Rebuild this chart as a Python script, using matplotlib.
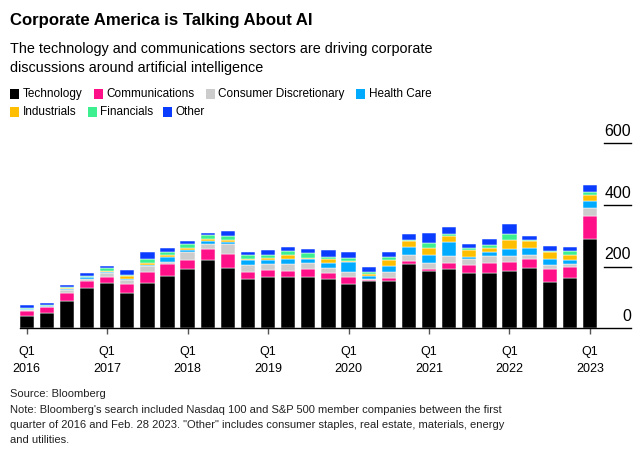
import matplotlib
matplotlib.use('Agg')
import matplotlib.pyplot as plt
from matplotlib.patches import Rectangle
import matplotlib.transforms as mtransforms
import numpy as np

plt.rcParams['font.family'] = ['Liberation Sans', 'DejaVu Sans']

# 季度 Q1 2016 - Q1 2023
quarters = ['Q1\n2016', '', '', '', 'Q1\n2017', '', '', '', 'Q1\n2018', '', '', '',
            'Q1\n2019', '', '', '', 'Q1\n2020', '', '', '', 'Q1\n2021', '', '', '',
            'Q1\n2022', '', '', '', 'Q1\n2023']

sectors = ['Technology', 'Communications', 'Consumer Discretionary', 'Health Care',
           'Industrials', 'Financials', 'Other']
colors = ['#000000', '#ff1089', '#cccccc', '#00aaff', '#ffbf00', '#3df08f', '#0a3cff']

tech = [41, 51, 90, 129, 146, 113, 148, 171, 192, 221, 194, 159, 165, 165, 167,
        161, 144, 152, 152, 208, 187, 191, 178, 180, 185, 194, 149, 162, 288]
comm = [15, 17, 24, 25, 19, 32, 36, 36, 29, 35, 46, 25, 24, 21, 25,
        17, 21, 5, 12, 10, 6, 19, 28, 30, 29, 29, 42, 36, 77]
cons = [2, 2, 11, 7, 15, 11, 17, 9, 27, 17, 33, 22, 18, 22, 18,
        16, 19, 3, 20, 18, 19, 25, 17, 24, 19, 13, 15, 9, 24]
health = [3, 1, 3, 5, 4, 4, 5, 16, 5, 11, 6, 14, 14, 16, 16,
          19, 30, 8, 19, 26, 24, 46, 9, 13, 25, 23, 17, 15, 23]
ind = [3, 1, 2, 1, 2, 9, 4, 6, 8, 4, 6, 4, 8, 14, 3,
       10, 3, 9, 18, 22, 23, 18, 22, 13, 28, 25, 23, 15, 19]
fin = [1, 3, 3, 4, 8, 4, 14, 9, 11, 14, 13, 14, 9, 13, 16,
       9, 12, 5, 10, 2, 16, 5, 6, 9, 18, 2, 6, 13, 11]
other = [9, 6, 7, 9, 8, 17, 23, 14, 10, 8, 16, 10, 16, 13, 13,
         21, 19, 16, 16, 18, 35, 23, 14, 19, 33, 13, 16, 13, 21]

series = [tech, comm, cons, health, ind, fin, other]
yticks = [0, 200, 400, 600]

W, H = 640, 455


def px(x, y):
    # 像素坐标 -> figure 坐标
    return x / W, 1 - y / H


fig = plt.figure(figsize=(6.4, 4.55), dpi=100)

# 坐标轴位置 (像素)
ax_left, ax_right, ax_base = 20, 631, 328.3
ymax = 620
ax_h = ymax / 3.24
ax = fig.add_axes([ax_left / W, 1 - ax_base / H, (ax_right - ax_left) / W, ax_h / H])

x = np.arange(len(tech))
bottom = np.zeros(len(tech))
for vals, c, name in zip(series, colors, sectors):
    ax.bar(x, vals, bottom=bottom, width=0.71, color=c, edgecolor='white',
           linewidth=0.35, label=name)
    bottom += np.array(vals)

ax.set_xlim(-0.333, 30.04)
ax.set_ylim(0, ymax)
for s in ['top', 'left', 'right']:
    ax.spines[s].set_visible(False)
ax.spines['bottom'].set_linewidth(1.0)
ax.set_yticks([])
ticks = [i for i, q in enumerate(quarters) if q]
ax.set_xticks(ticks)
ax.set_xticklabels([quarters[i] for i in ticks], fontsize=9.0, linespacing=1.6)
ax.tick_params(axis='x', length=4.5, width=1.0, color='#555555', pad=8)

# 右侧y轴刻度：短线 + 上方标签
trans = mtransforms.blended_transform_factory(ax.transAxes, ax.transData)
for v in yticks:
    if v > 0:
        ax.plot([0.956, 1.0], [v, v], transform=trans, color='black', lw=1.0,
                clip_on=False)
    ax.annotate(str(v), xy=(1.0, v), xycoords=trans, xytext=(0, 3),
                textcoords='offset points', ha='right', va='bottom', fontsize=11.5)

# 标题
fig.text(*px(10, 21), 'Corporate America is Talking About AI', fontsize=12.1,
         fontweight='bold', va='center', ha='left')
fig.text(*px(10, 49), 'The technology and communications sectors are driving corporate',
         fontsize=10.4, va='center', ha='left')
fig.text(*px(10, 68), 'discussions around artificial intelligence',
         fontsize=10.4, va='center', ha='left')

# 图例
legend_pos = [(10, 23, 94), (94, 106, 94), (206, 218, 94), (356, 369, 94),
              (10, 23, 112), (88, 100, 112), (163, 175, 112)]
for (sx, tx, ty), c, name in zip(legend_pos, colors, sectors):
    fx, fy = px(sx, ty + 4.5)
    fig.patches.append(Rectangle((fx, fy), 9 / W, 9 / H, transform=fig.transFigure,
                                 facecolor=c, edgecolor='none'))
    fig.text(*px(tx, ty), name, fontsize=8.5, va='center', ha='left')

# 来源与注释
notes = ['Source: Bloomberg',
         "Note: Bloomberg's search included Nasdaq 100 and S&P 500 member companies between the first",
         'quarter of 2016 and Feb. 28 2023. "Other" includes consumer staples, real estate, materials, energy',
         'and utilities.']
for i, line in enumerate(notes):
    yy = 394 if i == 0 else 395 + 15 * i
    fig.text(*px(10, yy), line, fontsize=8.0, va='center', ha='left', color='#222222')

fig.savefig('out.png', dpi=100)
